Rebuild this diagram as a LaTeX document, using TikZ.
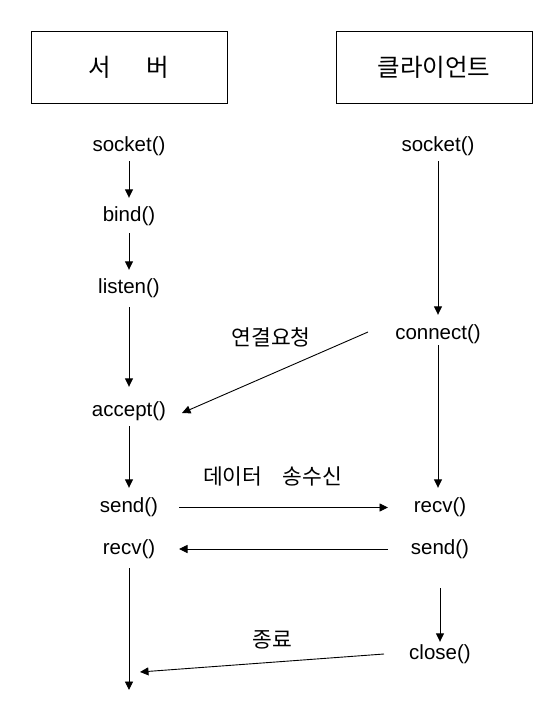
\documentclass[tikz,border=0pt]{standalone}
\usepackage{fontspec}
\setmainfont{Liberation Sans}
\newfontfamily\kofont{Noto Sans CJK KR}
\usetikzlibrary{arrows.meta}
\begin{document}
\begin{tikzpicture}[x=1pt,y=-1pt,
  fn/.style={inner sep=0pt,text height=15pt,text depth=5pt,font=\fontsize{20.5}{24}\selectfont},
  lbl/.style={inner sep=0pt,font=\kofont\fontsize{21.5}{24}\selectfont},
  titlebox/.style={draw,line width=0.9pt,minimum width=196pt,minimum height=72pt,inner sep=0pt,font=\kofont\fontsize{24.5}{28}\selectfont},
  arr/.style={line width=0.9pt,-{Triangle[length=8.5pt,width=8pt]}}]
\useasboundingbox (0,0) rectangle (554,704);
% titles
\node[titlebox] (srv) at (129,67) {서\hspace{36pt}버};
\node[titlebox] (cli) at (434,67) {클라이언트};
% server column
\node[fn] (s1) at (129,146.5) {socket()};
\node[fn] (b1) at (129,216) {bind()};
\node[fn] (l1) at (129,288) {listen()};
\node[fn] (a1) at (129,411) {accept()};
\node[fn] (snd1) at (129,507.5) {send()};
\node[fn] (rcv1) at (129,549) {recv()};
\coordinate (endL) at (129,690);
\coordinate (term) at (140,672);
% client column
\node[fn] (s2) at (438,146.5) {socket()};
\node[fn] (c2) at (438,334) {connect()};
\node[fn] (rcv2) at (440,507.5) {recv()};
\node[fn] (snd2) at (440,549) {send()};
\node[fn] (cl2) at (440,654) {close()};
% labels
\node[lbl] (req) at (271,337.5) {연결요청};
\node[lbl] (data) at (272.5,476) {데이터\hspace{20pt}송수신};
\node[lbl] (fin) at (272.5,640) {종료};
% server arrows
\draw[arr,shorten <=4.5pt,shorten >=8pt] (s1.south) -- (s1.south |- b1.north);
\draw[arr,shorten <=7pt,shorten >=8pt] (b1.south) -- (b1.south |- l1.north);
\draw[arr,shorten <=9pt,shorten >=14pt] (l1.south) -- (l1.south |- a1.north);
\draw[arr,shorten <=5pt,shorten >=9.5pt] (a1.south) -- (a1.south |- snd1.north);
\draw[arr,shorten <=9pt] (rcv1.south) -- (rcv1.south |- endL);
% client arrows
\draw[arr,shorten <=4.5pt,shorten >=9pt] (s2.south) -- (s2.south |- c2.north);
\draw[arr,shorten <=1pt,shorten >=9.5pt] (c2.south) -- (c2.south |- rcv2.north);
\draw[arr,shorten <=29pt,shorten >=2pt] (snd2.south) -- (snd2.south |- cl2.north);
% cross arrows
\draw[arr] ([xshift=-70pt,yshift=2pt]c2.center) -- ([xshift=53pt,yshift=-2pt]a1.center);
\draw[arr] ([xshift=50pt]snd1.center) -- ([xshift=-52pt]rcv2.center);
\draw[arr] ([xshift=-52pt]snd2.center) -- ([xshift=50pt]rcv1.center);
\draw[arr] ([xshift=-56pt]cl2.center) -- (term);
\end{tikzpicture}
\end{document}
